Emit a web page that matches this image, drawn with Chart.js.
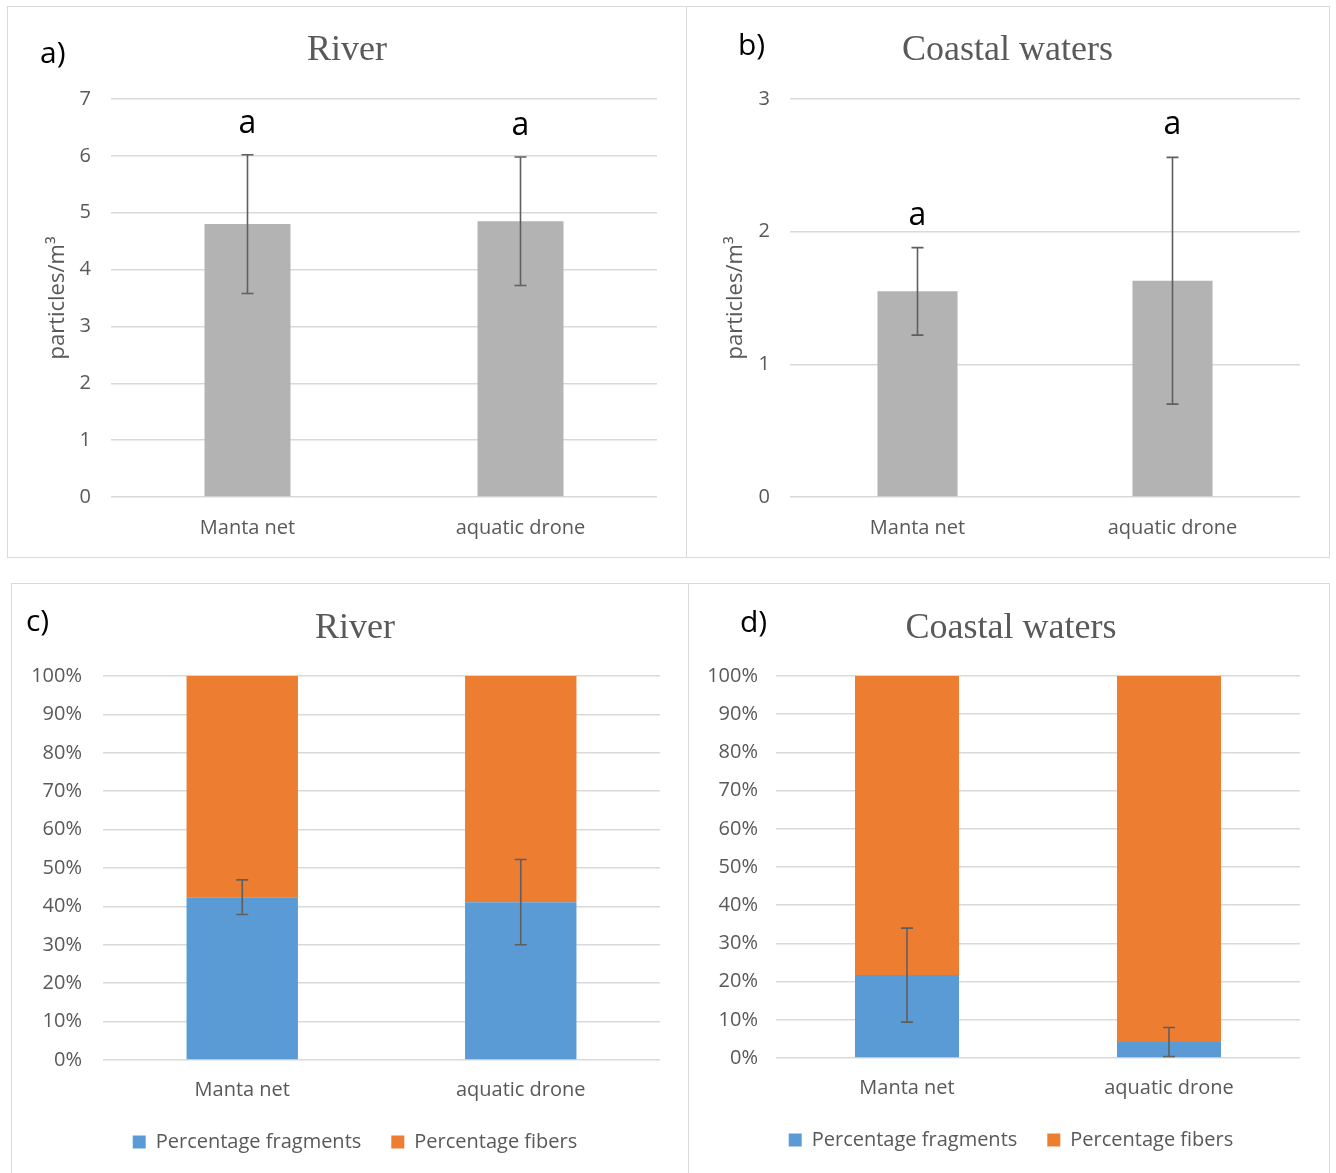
<!DOCTYPE html>
<html><head><meta charset="utf-8">
<script src="https://cdn.jsdelivr.net/npm/chart.js@4.4.0/dist/chart.umd.min.js"></script>
<style>
body{margin:0;background:#fff;width:1336px;height:1173px;position:relative;overflow:hidden;font-family:'Open Sans';}
canvas{position:absolute;}
.frame{position:absolute;border:1.5px solid #d9d9d9;box-sizing:border-box;}
.lbl{position:absolute;font-family:'Open Sans';font-size:30px;line-height:30px;color:#000;}
</style></head><body>
<div class="frame" style="left:7px;top:6px;width:680px;height:552px"></div>
<div class="frame" style="left:686px;top:6px;width:644px;height:552px"></div>
<div class="frame" style="left:11px;top:583px;width:678px;height:600px"></div>
<div class="frame" style="left:688px;top:583px;width:642px;height:600px"></div>
<canvas id="ca" width="678" height="549" style="left:8px;top:8px"></canvas>
<canvas id="cb" width="643" height="549" style="left:686px;top:8px"></canvas>
<canvas id="cc" width="676" height="586" style="left:12px;top:584px"></canvas>
<canvas id="cd" width="640" height="586" style="left:689px;top:584px"></canvas>
<div class="lbl" style="left:40px;top:37px">a)</div>
<div class="lbl" style="left:738px;top:29px">b)</div>
<div class="lbl" style="left:26px;top:605px">c)</div>
<div class="lbl" style="left:740px;top:606px">d)</div>
<script>
// ---- data ----
const categories = ['Manta net', 'aquatic drone'];
const riverMean = [4.80, 4.85];
const riverErr = [1.22, 1.13];
const riverLetters = ['a', 'a'];
const coastalMean = [1.55, 1.63];
const coastalErr = [0.33, 0.93];
const coastalLetters = ['a', 'a'];
const riverFragments = [42.4, 41.1];
const riverFibers = [57.6, 58.9];
const riverFragErr = [4.5, 11.1];
const coastalFragments = [21.7, 4.2];
const coastalFibers = [78.3, 95.8];
const coastalFragErr = [12.3, 3.8];
const titleRiver = 'River';
const titleCoastal = 'Coastal waters';
const yTitle = 'particles/m³';
const legendNames = ['Percentage fragments', 'Percentage fibers'];

// ---- styles ----
const TXT = '#595959';
const GRID = '#d9d9d9';
const FONT = 'Open Sans';
const FS = 20;
const GRAY = '#b3b3b3';
const BLUE = '#5b9bd5';
const ORANGE = '#ed7d31';

const errorBarPlugin = {
  id: 'errorBars',
  afterDatasetsDraw(chart, args, opts) {
    if (!opts || !opts.errors) return;
    const ds = chart.data.datasets[opts.datasetIndex];
    const meta = chart.getDatasetMeta(opts.datasetIndex);
    const y = chart.scales.y;
    const ctx = chart.ctx;
    ctx.save();
    ctx.strokeStyle = '#5f5f5f';
    ctx.lineWidth = 1.6;
    meta.data.forEach((el, i) => {
      const v = ds.data[i], e = opts.errors[i];
      const yt = y.getPixelForValue(v + e), yb = y.getPixelForValue(v - e);
      const x = el.x, c = 6;
      ctx.beginPath();
      ctx.moveTo(x, yt); ctx.lineTo(x, yb);
      ctx.moveTo(x - c, yt); ctx.lineTo(x + c, yt);
      ctx.moveTo(x - c, yb); ctx.lineTo(x + c, yb);
      ctx.stroke();
      if (opts.letters) {
        ctx.fillStyle = '#000';
        ctx.font = '32px "Open Sans"';
        ctx.textAlign = 'center';
        ctx.textBaseline = 'alphabetic';
        ctx.fillText(opts.letters[i], x, yt - opts.letterGap);
      }
    });
    ctx.restore();
  }
};

function titleOpts(text, pt, pb) {
  return {display: true, text, color: TXT, font: {family: 'Liberation Serif', size: 36, weight: 'normal'}, padding: {top: pt, bottom: pb}};
}

function rightSpacer(w) {
  return {type: 'linear', position: 'right', display: true, grid: {display: false, drawTicks: false},
          border: {display: false}, ticks: {display: false}, afterFit: s => { s.width = w; }};
}

function meanChart(id, title, data, err, letters, gap, yMax, yWidth, barPct) {
  return new Chart(document.getElementById(id), {
    type: 'bar',
    data: {labels: categories, datasets: [{data, backgroundColor: GRAY, barPercentage: barPct, categoryPercentage: 1}]},
    options: {
      responsive: false, animation: false, devicePixelRatio: 1,
      layout: {padding: 0},
      plugins: {
        legend: {display: false}, tooltip: {enabled: false},
        title: titleOpts(title, 21.4, 26.4),
        errorBars: {datasetIndex: 0, errors: err, letters, letterGap: gap}
      },
      scales: {
        x: {grid: {display: false, drawTicks: false}, border: {display: false},
            ticks: {color: TXT, font: {family: FONT, size: FS}, padding: 19},
            afterFit: s => { s.height = 60; }},
        y: {min: 0, max: yMax, ticks: {stepSize: 1, color: TXT, font: {family: FONT, size: FS}, padding: 20},
            grid: {color: GRID, lineWidth: 1.5, drawTicks: false}, border: {display: false},
            title: {display: true, text: yTitle, color: TXT, font: {family: FONT, size: 22}, padding: {top: 37, bottom: 0}},
            afterFit: s => { s.width = yWidth; }},
        yR: rightSpacer(29)
      }
    },
    plugins: [errorBarPlugin]
  });
}

function pctChart(id, title, frag, fib, err, padL, yWidth, rightW, bottomPad, xH, barPct, tickPad) {
  return new Chart(document.getElementById(id), {
    type: 'bar',
    data: {labels: categories, datasets: [
      {label: legendNames[0], data: frag, backgroundColor: BLUE, barPercentage: barPct, categoryPercentage: 1},
      {label: legendNames[1], data: fib, backgroundColor: ORANGE, barPercentage: barPct, categoryPercentage: 1}
    ]},
    options: {
      responsive: false, animation: false, devicePixelRatio: 1,
      layout: {padding: {top: 0, right: 0, bottom: bottomPad, left: padL}},
      plugins: {
        tooltip: {enabled: false},
        title: titleOpts(title, 23.4, 25.4),
        legend: {position: 'bottom', labels: {color: TXT, font: {family: FONT, size: FS}, boxWidth: 13, boxHeight: 13, padding: 30}},
        errorBars: {datasetIndex: 0, errors: err}
      },
      scales: {
        x: {stacked: true, grid: {display: false, drawTicks: false}, border: {display: false},
            ticks: {color: TXT, font: {family: FONT, size: FS}, padding: 18},
            afterFit: s => { s.height = xH; }},
        y: {stacked: true, min: 0, max: 100,
            ticks: {stepSize: 10, color: TXT, font: {family: FONT, size: FS}, padding: tickPad, callback: v => v + '%'},
            grid: {color: GRID, lineWidth: 1.5, drawTicks: false}, border: {display: false},
            afterFit: s => { s.width = yWidth; }},
        yR: rightSpacer(rightW)
      }
    },
    plugins: [errorBarPlugin]
  });
}

meanChart('ca', titleRiver, riverMean, riverErr, riverLetters, 22, 7, 103, 0.315);
meanChart('cb', titleCoastal, coastalMean, coastalErr, coastalLetters, 23, 3, 104, 0.314);
pctChart('cc', titleRiver, riverFragments, riverFibers, riverFragErr, 10, 81, 28, 8, 42, 0.40, 21);
pctChart('cd', titleCoastal, coastalFragments, coastalFibers, coastalFragErr, 4, 83, 29, 10, 42, 0.397, 18);
</script>
</body></html>
